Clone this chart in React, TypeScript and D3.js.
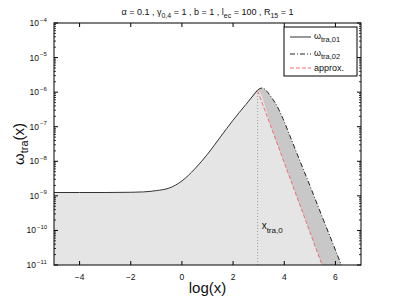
import React from "react";
import * as d3 from "d3";

// x positions (log x) and values
const xW01 = [-5, -4, -3, -2, -1.5, -1, -0.5, 0, 0.5, 1, 1.5, 2, 2.5, 2.96];
const yW01 = [1.25e-9, 1.25e-9, 1.25e-9, 1.27e-9, 1.3e-9, 1.42e-9, 1.68e-9, 2.7e-9, 6.0e-9, 1.6e-8, 5.0e-8, 1.55e-7, 4.4e-7, 1.15e-6];

const xW02 = [2.96, 3.05, 3.14, 3.25, 3.44, 3.7, 3.95, 4.21, 4.6, 5.0, 5.5, 6.0, 6.3];
const yW02 = [1.15e-6, 1.27e-6, 1.32e-6, 1.2e-6, 8.1e-7, 4.2e-7, 1.71e-7, 5.7e-8, 1.08e-8, 2.0e-9, 2.3e-10, 2.7e-11, 7.4e-12];

const xApprox = [2.96, 3.5, 4, 4.5, 5, 5.5, 5.6];
const yApprox = [1.1e-6, 9.1e-8, 9.1e-9, 9.1e-10, 9.1e-11, 9.1e-12, 5.8e-12];

const xTra0 = 2.96;
const xTicks = [-4, -2, 0, 2, 4, 6];
const yExps = [-11, -10, -9, -8, -7, -6, -5, -4];

const W = 399, H = 300;
const L = 54, R = 361, T = 23, B = 265;
const FONT = "'Liberation Sans', Arial, sans-serif";

export default function App() {
  const x = d3.scaleLinear().domain([-5, 7]).range([L, R]);
  const y = d3.scaleLog().domain([1e-11, 1e-4]).range([B, T]);

  const pts = (xs: number[], ys: number[]) => xs.map((v, i) => [v, ys[i]] as [number, number]);
  const w01 = pts(xW01, yW01);
  const w02 = pts(xW02, yW02);
  const appr = pts(xApprox, yApprox);

  const line = d3.line<[number, number]>().x(d => x(d[0])).y(d => y(d[1])).curve(d3.curveMonotoneX);
  const area = d3.area<[number, number]>().x(d => x(d[0])).y0(B + 10).y1(d => y(d[1])).curve(d3.curveMonotoneX);

  const lightPts = [...w01, ...appr.slice(1)];

  const minor: number[] = [];
  for (let e = -11; e < -4; e++) for (let k = 2; k <= 9; k++) minor.push(k * Math.pow(10, e));

  const peakY = y(yW01[yW01.length - 1]);

  return (
    <svg width={W} height={H} style={{ position: "absolute", left: 0, top: 0, background: "#fff" }} fontFamily={FONT}>
      <defs>
        <clipPath id="plotclip">
          <rect x={L} y={T} width={R - L} height={B - T} />
        </clipPath>
      </defs>
      <g clipPath="url(#plotclip)">
        <path d={area(w02) || ""} fill="#c8c8c8" />
        <path d={area(lightPts) || ""} fill="#e5e5e5" />
        <line x1={x(xTra0)} x2={x(xTra0)} y1={peakY} y2={B} stroke="#999" strokeWidth={1} strokeDasharray="1,2" />
        <path d={line(w01) || ""} fill="none" stroke="#333" strokeWidth={1} />
        <path d={line(appr) || ""} fill="none" stroke="#f26d6d" strokeWidth={1} strokeDasharray="4,2" />
        <path d={line(w02) || ""} fill="none" stroke="#222" strokeWidth={1} strokeDasharray="5,2,1,2" />
      </g>

      {/* x_tra,0 label */}
      <text x={x(xTra0) + 4} y={229} fontSize={10} fill="#111">
        x<tspan fontSize={8} dy={4}>tra,0</tspan>
      </text>

      {/* axes box */}
      <rect x={L} y={T} width={R - L} height={B - T} fill="none" stroke="#000" strokeWidth={1} />

      {/* x ticks */}
      {xTicks.map(t => (
        <g key={"xt" + t}>
          <line x1={x(t)} x2={x(t)} y1={B} y2={B - 4} stroke="#000" />
          <line x1={x(t)} x2={x(t)} y1={T} y2={T + 4} stroke="#000" />
          <text x={x(t)} y={280} fontSize={8.5} textAnchor="middle" fill="#111">
            {t < 0 ? "\u2212" + Math.abs(t) : String(t)}
          </text>
        </g>
      ))}

      {/* y ticks */}
      {yExps.map(e => (
        <g key={"yt" + e}>
          <line x1={L} x2={L + 4} y1={y(Math.pow(10, e))} y2={y(Math.pow(10, e))} stroke="#000" />
          <line x1={R} x2={R - 4} y1={y(Math.pow(10, e))} y2={y(Math.pow(10, e))} stroke="#000" />
          <text x={e <= -10 ? 36 : 39} y={y(Math.pow(10, e)) + 3} fontSize={8.5} textAnchor="end" fill="#111">
            10
          </text>
          <text x={e <= -10 ? 37 : 40} y={y(Math.pow(10, e)) - 1.5} fontSize={6} textAnchor="start" fill="#111">
            {"\u2212" + Math.abs(e)}
          </text>
        </g>
      ))}
      {minor.map((m, i) => (
        <g key={"mn" + i}>
          <line x1={L} x2={L + 2} y1={y(m)} y2={y(m)} stroke="#000" strokeWidth={0.8} />
          <line x1={R} x2={R - 2} y1={y(m)} y2={y(m)} stroke="#000" strokeWidth={0.8} />
        </g>
      ))}

      {/* title */}
      <text x={(L + R) / 2} y={15} fontSize={9} textAnchor="middle" fill="#111">
        {"\u03b1 = 0.1 , \u03b3"}
        <tspan fontSize={7} dy={2.5}>0,4</tspan>
        <tspan dy={-2.5}>{" = 1 , b = 1 , l"}</tspan>
        <tspan fontSize={7} dy={2.5}>ec</tspan>
        <tspan dy={-2.5}>{" = 100 , R"}</tspan>
        <tspan fontSize={7} dy={2.5}>15</tspan>
        <tspan dy={-2.5}>{" = 1"}</tspan>
      </text>

      {/* y label */}
      <text transform={`translate(24,${(T + B) / 2}) rotate(-90)`} fontSize={15} textAnchor="middle" fill="#111">
        {"\u03c9"}
        <tspan fontSize={11} dy={4}>tra</tspan>
        <tspan dy={-4}>(x)</tspan>
      </text>

      {/* x label */}
      <text x={(L + R) / 2} y={293} fontSize={15} textAnchor="middle" fill="#111">
        log(x)
      </text>

      {/* legend */}
      <g>
        <rect x={284} y={27} width={73} height={49} fill="#fff" stroke="#000" strokeWidth={1} />
        <line x1={290} x2={311} y1={37} y2={37} stroke="#333" strokeWidth={1} />
        <text x={314} y={39} fontSize={9} fill="#111">
          {"\u03c9"}
          <tspan fontSize={7.5} dy={3}>tra,01</tspan>
        </text>
        <line x1={290} x2={311} y1={54} y2={54} stroke="#222" strokeWidth={1} strokeDasharray="5,2,1,2" />
        <text x={314} y={56} fontSize={9} fill="#111">
          {"\u03c9"}
          <tspan fontSize={7.5} dy={3}>tra,02</tspan>
        </text>
        <line x1={290} x2={311} y1={68} y2={68} stroke="#f26d6d" strokeWidth={1} strokeDasharray="4,2" />
        <text x={314} y={71} fontSize={9} fill="#111">approx.</text>
      </g>
    </svg>
  );
}
